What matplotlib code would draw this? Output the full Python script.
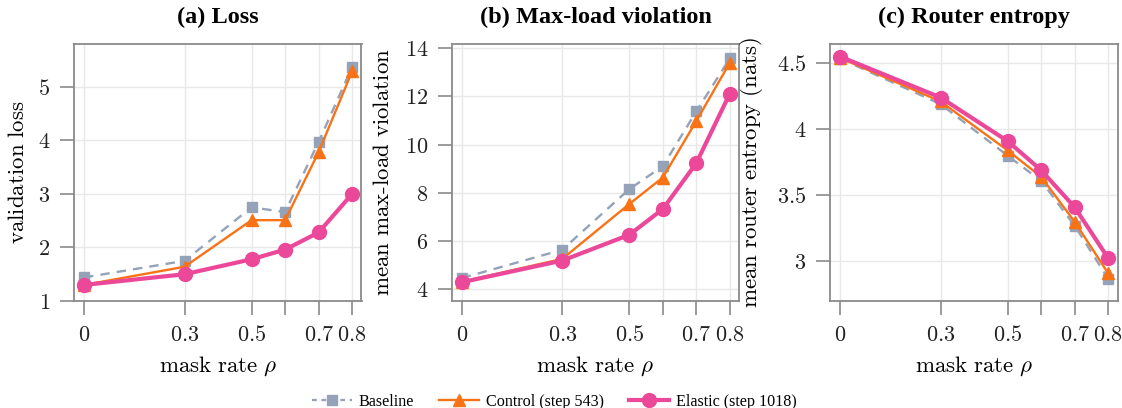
import matplotlib
matplotlib.use("Agg")
import matplotlib.pyplot as plt
from matplotlib.lines import Line2D

plt.rcParams['mathtext.fontset'] = 'cm'

# ---- data ----
mask_rate = [0.0, 0.3, 0.5, 0.6, 0.7, 0.8]
xtick_labels = ['0', '0.3', '0.5', '', '0.7', '0.8']

loss_baseline = [1.44, 1.75, 2.75, 2.66, 3.97, 5.37]
loss_control = [1.30, 1.64, 2.51, 2.51, 3.78, 5.29]
loss_elastic = [1.30, 1.50, 1.78, 1.96, 2.28, 3.00]

viol_baseline = [4.45, 5.63, 8.15, 9.10, 11.38, 13.58]
viol_control = [4.30, 5.25, 7.53, 8.63, 10.98, 13.40]
viol_elastic = [4.28, 5.18, 6.25, 7.32, 9.23, 12.12]

ent_baseline = [4.535, 4.19, 3.80, 3.61, 3.27, 2.87]
ent_control = [4.54, 4.21, 3.84, 3.64, 3.30, 2.91]
ent_elastic = [4.55, 4.24, 3.91, 3.69, 3.41, 3.025]

titles = ['(a) Loss', '(b) Max-load violation', '(c) Router entropy']
ylabels = [r'$\mathrm{validation\ loss}$',
           r'$\mathrm{mean\ max}\text{-}\mathrm{load\ violation}$',
           r'$\mathrm{mean\ router\ entropy\ (nats)}$']
xlabel = r'$\mathrm{mask\ rate}\ \rho$'
yticks = [[1, 2, 3, 4, 5], [4, 6, 8, 10, 12, 14], [3, 3.5, 4, 4.5]]
ytick_labels = [['1', '2', '3', '4', '5'], ['4', '6', '8', '10', '12', '14'],
                ['3', '3.5', '4', '4.5']]
ylims = [(1.0, 5.8), (3.5, 14.18), (2.70, 4.645)]
series_names = ['Baseline', 'Control (step 543)', 'Elastic (step 1018)']

C_BASE = '#94a3b8'
C_CTRL = '#f97316'
C_ELAS = '#ec4899'
SPINE = '#8a8a8a'

fig = plt.figure(figsize=(11.22, 4.08), dpi=100)
lefts = [74, 451.7, 830]
W, H = 1122, 408
axes = []
for l in lefts:
    ax = fig.add_axes([l / W, 1 - 301 / H, 287.5 / W, 257 / H])
    axes.append(ax)

data = [(loss_baseline, loss_control, loss_elastic),
        (viol_baseline, viol_control, viol_elastic),
        (ent_baseline, ent_control, ent_elastic)]

for i, ax in enumerate(axes):
    b, c, e = data[i]
    ax.plot(mask_rate, b, color=C_BASE, lw=1.7, ls=(0, (4, 3)), marker='s', ms=7.5,
            zorder=3)
    ax.plot(mask_rate, c, color=C_CTRL, lw=1.7, marker='^', ms=9, zorder=4)
    ax.plot(mask_rate, e, color=C_ELAS, lw=3.0, marker='o', ms=10, zorder=5)
    ax.set_xlim(-0.03, 0.828)
    ax.set_ylim(*ylims[i])
    ax.set_xticks(mask_rate)
    ax.set_xticklabels(['$' + t + '$' if t else '' for t in xtick_labels], fontsize=16)
    ax.set_yticks(yticks[i])
    ax.set_yticklabels(['$' + t + '$' for t in ytick_labels[i]], fontsize=16)
    ax.grid(True, color='#e8e8e8', lw=1.0, zorder=0)
    ax.set_axisbelow(True)
    for s in ax.spines.values():
        s.set_color(SPINE)
        s.set_linewidth(1.3)
    ax.tick_params(length=10, width=1.2, color=SPINE, pad=7, labelcolor='#222222')
    ax.set_title(titles[i], fontfamily='Liberation Serif', fontweight='bold',
                 fontsize=17.5, pad=15)
    ax.set_xlabel(xlabel, fontsize=16.5, va='top')
    ax.xaxis.set_label_coords(0.5, -0.207)
    ax.set_ylabel(ylabels[i], fontsize=16.5)

axes[0].yaxis.set_label_coords(-0.155, 0.5)
axes[1].yaxis.set_label_coords(-0.20, 0.5)
axes[2].yaxis.set_label_coords(-0.225, 0.5)

handles = [
    Line2D([], [], color=C_BASE, lw=1.7, ls=(0, (2, 2)), marker='s', ms=7),
    Line2D([], [], color=C_CTRL, lw=1.7, marker='^', ms=9),
    Line2D([], [], color=C_ELAS, lw=3.0, marker='o', ms=10),
]
fig.legend(handles, series_names, loc='center', bbox_to_anchor=(0.494, 1 - 401.5 / H),
           ncol=3, frameon=False, prop={'family': 'Liberation Serif', 'size': 11.6},
           handlelength=2.5, handletextpad=0.4, columnspacing=1.55)

fig.savefig('out.png', dpi=100)
